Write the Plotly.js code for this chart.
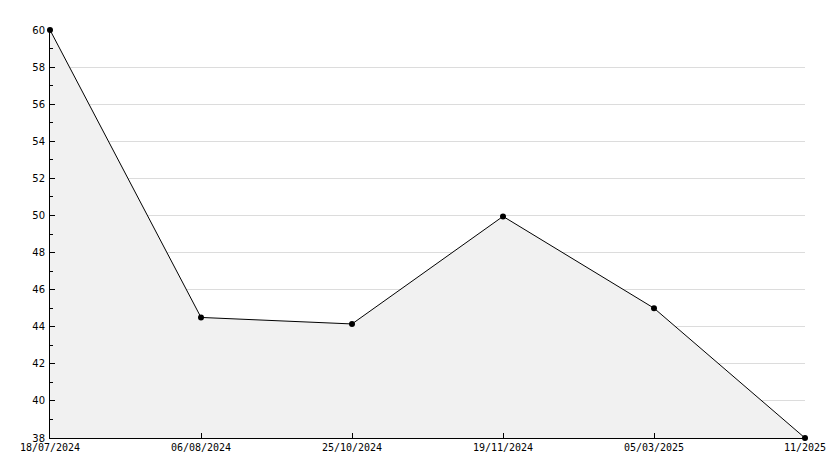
<!DOCTYPE html>
<html>
<head>
<meta charset="utf-8">
<script src="https://cdn.plot.ly/plotly-3.0.1.min.js"></script>
<style>html,body{margin:0;padding:0;background:#fff}#chart{width:834px;height:468px}</style>
</head>
<body>
<div id="chart"></div>
<script>
const dates = ["18/07/2024", "06/08/2024", "25/10/2024", "19/11/2024", "05/03/2025", "11/2025"];
const values = [60, 44.5, 44.15, 49.95, 45.0, 38];
const yTicks = [38, 40, 42, 44, 46, 48, 50, 52, 54, 56, 58, 60];

const trace = {
  x: dates,
  y: values,
  type: 'scatter',
  mode: 'lines+markers',
  fill: 'tozeroy',
  fillcolor: '#f1f1f1',
  line: {color: '#000', width: 1},
  marker: {color: '#000', size: 6, symbol: 'circle'},
  cliponaxis: false,
  hoverinfo: 'x+y'
};

const layout = {
  width: 834,
  height: 468,
  margin: {l: 50, r: 29, t: 30, b: 30},
  paper_bgcolor: '#fff',
  plot_bgcolor: '#fff',
  showlegend: false,
  xaxis: {
    type: 'category',
    range: [0, dates.length - 1],
    showgrid: false,
    zeroline: false,
    showline: true,
    linecolor: '#000',
    linewidth: 1,
    ticks: 'inside',
    ticklen: 5,
    tickcolor: '#000',
    tickfont: {family: 'DejaVu Sans Mono', size: 10, color: '#000'}
  },
  yaxis: {
    range: [38, 60],
    tickvals: yTicks,
    ticktext: yTicks.map(String),
    showgrid: true,
    gridcolor: '#dcdcdc',
    gridwidth: 1,
    zeroline: false,
    showline: true,
    linecolor: '#000',
    linewidth: 1,
    ticks: 'inside',
    ticklen: 5,
    tickcolor: '#000',
    ticklabelstandoff: 2,
    tickfont: {family: 'DejaVu Sans', size: 10, color: '#000'},
    minor: {ticks: 'inside', ticklen: 3, dtick: 1, tick0: 38, tickcolor: '#000', showgrid: false}
  }
};

Plotly.newPlot('chart', [trace], layout, {displayModeBar: false, staticPlot: true});
</script>
</body>
</html>
